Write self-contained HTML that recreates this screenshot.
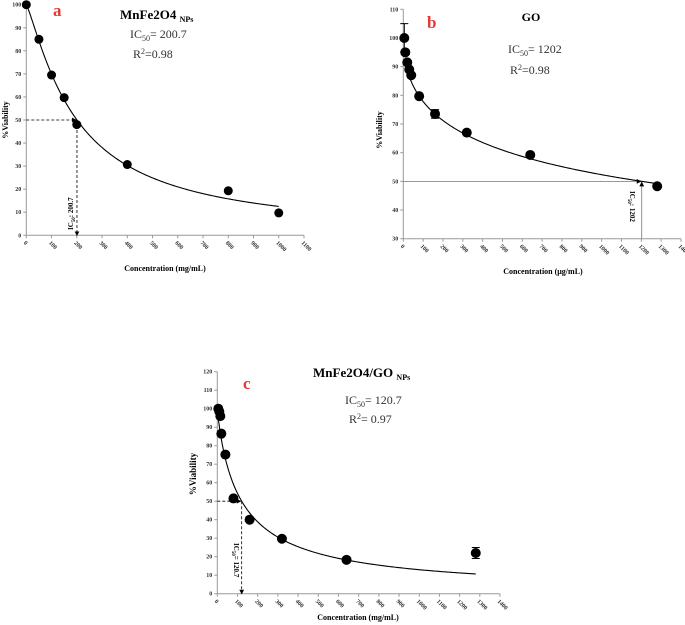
<!DOCTYPE html>
<html><head><meta charset="utf-8"><style>
body{margin:0;background:#fff}
svg{display:block;font-family:"Liberation Serif",serif}
.tk{font-size:6px;font-weight:bold;fill:#333}
</style></head><body>
<svg id="svg" width="685" height="625" viewBox="0 0 685 625" xmlns="http://www.w3.org/2000/svg">
<defs>
<marker id="ar" markerWidth="6" markerHeight="6" refX="5" refY="3" orient="auto"><path d="M0,0 L6,3 L0,6 z" fill="#000"/></marker>
</defs>
</svg>
<script>
// Panel a data
const aX = [0,50,100,150,200,400,800,1000];
const aY = [100,85,69.5,59.7,48,30.7,19.3,9.7];
const aXTicks = [0,100,200,300,400,500,600,700,800,900,1000,1100];
const aYTicks = [0,10,20,30,40,50,60,70,80,90,100];
// Panel b data
const bX = [5,10,20,30,40,80,160,320,640,1280];
const bY = [100,95,91.5,89,87,79.7,73.5,67,59.2,48.3];
const bXTicks = [0,100,200,300,400,500,600,700,800,900,1000,1100,1200,1300,1400];
const bYTicks = [30,40,50,60,70,80,90,100,110];
// Panel c data
const cX = [5,10,15,20,40,80,160,320,640,1280];
const cY = [100,98.5,96,86.5,75.2,51.5,40,29.7,18.3,22];
const cXTicks = [0,100,200,300,400,500,600,700,800,900,1000,1100,1200,1300,1400];
const cYTicks = [0,10,20,30,40,50,60,70,80,90,100,110,120];

const NS="http://www.w3.org/2000/svg";
const svg=document.getElementById('svg');
function el(tag,attrs,parent){const e=document.createElementNS(NS,tag);for(const k in attrs)e.setAttribute(k,attrs[k]);(parent||svg).appendChild(e);return e;}

function panel(p){
  const g=el('g',{});
  
  
  const sx=v=>p.x0+(v-p.xmin)/(p.xmax-p.xmin)*(p.x1-p.x0);
  const sy=v=>p.y0-(v-p.ymin)/(p.ymax-p.ymin)*(p.y0-p.y1);
  const xa=el('line',{x1:p.x0,y1:p.y0,x2:p.x1,y2:p.y0,stroke:'#999','stroke-width':1},g);
  
  
  const ya=el('line',{x1:p.x0,y1:p.y0,x2:p.x0,y2:p.y1,stroke:'#999','stroke-width':1},g);
  
  
  p.xt.forEach(v=>{
    el('line',{x1:sx(v),y1:p.y0,x2:sx(v),y2:p.y0+3,stroke:'#999'},g);
    const tx=sx(v)-3;
    const t=el('text',{x:tx,y:p.y0+8,class:'tk',transform:`rotate(45 ${tx} ${p.y0+8})`},g);
    t.textContent=v;
    
    
  });
  p.yt.forEach(v=>{
    el('line',{x1:p.x0-3,y1:sy(v),x2:p.x0,y2:sy(v),stroke:'#999'},g);
    const t=el('text',{x:p.x0-5,y:sy(v)+2,class:'tk','text-anchor':'end'},g);
    t.textContent=v;
    
    
  });
  let d='';
  for(let i=0;i<=200;i++){const x=p.cs+(p.ce-p.cs)*i/200;const y=100/(1+Math.pow(x/p.ic,p.h));d+=(i?'L':'M')+sx(x).toFixed(2)+','+sy(y).toFixed(2);}
  const c=el('path',{d:d,fill:'none',stroke:'#000','stroke-width':1.1},g);
  
  
  const dash=p.dash?'3,2':'none';const lc=p.dash?'#000':'#777';
  const h=el('line',{x1:p.x0,y1:sy(50),x2:sx(p.ic)-1,y2:sy(50),stroke:lc,'stroke-width':0.8,'stroke-dasharray':dash,'marker-end':'url(#ar)'},g);
  
  
  const v1=p.dash?sy(50):p.y0, v2=p.dash?p.y0:sy(50)+1;
  const v=el('line',{x1:sx(p.ic),y1:v1,x2:sx(p.ic),y2:v2,stroke:lc,'stroke-width':0.8,'stroke-dasharray':dash,'marker-end':'url(#ar)'},g);
  
  
  p.xs.forEach((xv,i)=>{
    if(p.err&&p.err[i]){
      const e=el('path',{d:`M${sx(xv)-4},${sy(p.ys[i]+p.err[i])}h8M${sx(xv)},${sy(p.ys[i]+p.err[i])}V${sy(p.ys[i]-p.err[i])}M${sx(xv)-4},${sy(p.ys[i]-p.err[i])}h8`,stroke:'#000','stroke-width':1,fill:'none'},g);
      
      
    }
    const pt=el('circle',{cx:sx(xv),cy:sy(p.ys[i]),r:p.r,fill:'#000'},g);
    
    
  });
  return {sx,sy,g};
}

const A=panel({id:'a',x0:26.3,x1:304,y0:235.3,y1:4.7,xmin:0,xmax:1100,ymin:0,ymax:100,xt:aXTicks,yt:aYTicks,xs:aX,ys:aY,ic:200.7,h:1.21,cs:0,ce:1000,dash:true,r:4.5});
const B=panel({id:'b',x0:403.3,x1:681,y0:238.7,y1:9.3,xmin:0,xmax:1400,ymin:30,ymax:110,xt:bXTicks,yt:bYTicks,xs:bX,ys:bY,ic:1202,h:0.505,cs:8,ce:1280,dash:false,r:5,err:[5,0,0,0,0,0,1.5,0,0,0]});
const C=panel({id:'c',x0:217.3,x1:500,y0:593.7,y1:371.7,xmin:0,xmax:1400,ymin:0,ymax:120,xt:cXTicks,yt:cYTicks,xs:cX,ys:cY,ic:120.7,h:0.9,cs:0,ce:1280,dash:true,r:5,err:[0,0,0,0,0,0,0,0,0,3]});
</script>
<svg style="position:absolute;left:0;top:0" width="685" height="625">
<g font-family="Liberation Serif, serif">
<text x="53" y="16" fill="#e53935" font-size="17" font-weight="bold">a</text>
<text x="120" y="19" font-size="13" font-weight="bold">MnFe2O4 <tspan font-size="8" dy="3">NPs</tspan></text>
<text x="130" y="38" font-size="12" fill="#333">IC<tspan font-size="8" dy="3">50</tspan><tspan dy="-3">= 200.7</tspan></text>
<text x="133" y="58" font-size="12" fill="#333">R<tspan font-size="8" dy="-4">2</tspan><tspan dy="4">=0.98</tspan></text>
<text transform="translate(73,230) rotate(-90)" font-size="7" font-weight="bold">IC<tspan font-size="5" dy="2">50</tspan><tspan dy="-2">: 200.7</tspan></text>
<text transform="translate(8,120) rotate(-90)" text-anchor="middle" font-size="8" font-weight="bold">%Viability</text>
<text x="165" y="271" text-anchor="middle" font-size="8" font-weight="bold">Concentration (mg/mL)</text>

<text x="427" y="28" fill="#e53935" font-size="17" font-weight="bold">b</text>
<text x="531" y="21" text-anchor="middle" font-size="12" font-weight="bold">GO</text>
<text x="508" y="53" font-size="12" fill="#333">IC<tspan font-size="8" dy="3">50</tspan><tspan dy="-3">= 1202</tspan></text>
<text x="510" y="74" font-size="12" fill="#333">R<tspan font-size="8" dy="-4">2</tspan><tspan dy="4">=0.98</tspan></text>
<text transform="translate(630,191) rotate(90)" font-size="7" font-weight="bold">IC<tspan font-size="5" dy="2">50</tspan><tspan dy="-2">: 1202</tspan></text>
<text transform="translate(382,130) rotate(-90)" text-anchor="middle" font-size="8" font-weight="bold">%Viability</text>
<text x="543" y="274" text-anchor="middle" font-size="8" font-weight="bold">Concentration (μg/mL)</text>

<text x="243" y="389" fill="#e53935" font-size="17" font-weight="bold">c</text>
<text x="313" y="377" font-size="13" font-weight="bold">MnFe2O4/GO <tspan font-size="8" dy="3">NPs</tspan></text>
<text x="345" y="404" font-size="12" fill="#333">IC<tspan font-size="8" dy="3">50</tspan><tspan dy="-3">= 120.7</tspan></text>
<text x="349" y="423" font-size="12" fill="#333">R<tspan font-size="8" dy="-4">2</tspan><tspan dy="4">= 0.97</tspan></text>
<text transform="translate(234,543) rotate(90)" font-size="7" font-weight="bold">IC<tspan font-size="5" dy="2">50</tspan><tspan dy="-2">= 120.7</tspan></text>
<text transform="translate(196,474) rotate(-90)" text-anchor="middle" font-size="9" font-weight="bold">%Viability</text>
<text x="358" y="620" text-anchor="middle" font-size="8" font-weight="bold">Concentration (mg/mL)</text>
</g>
</svg>
</body></html>
